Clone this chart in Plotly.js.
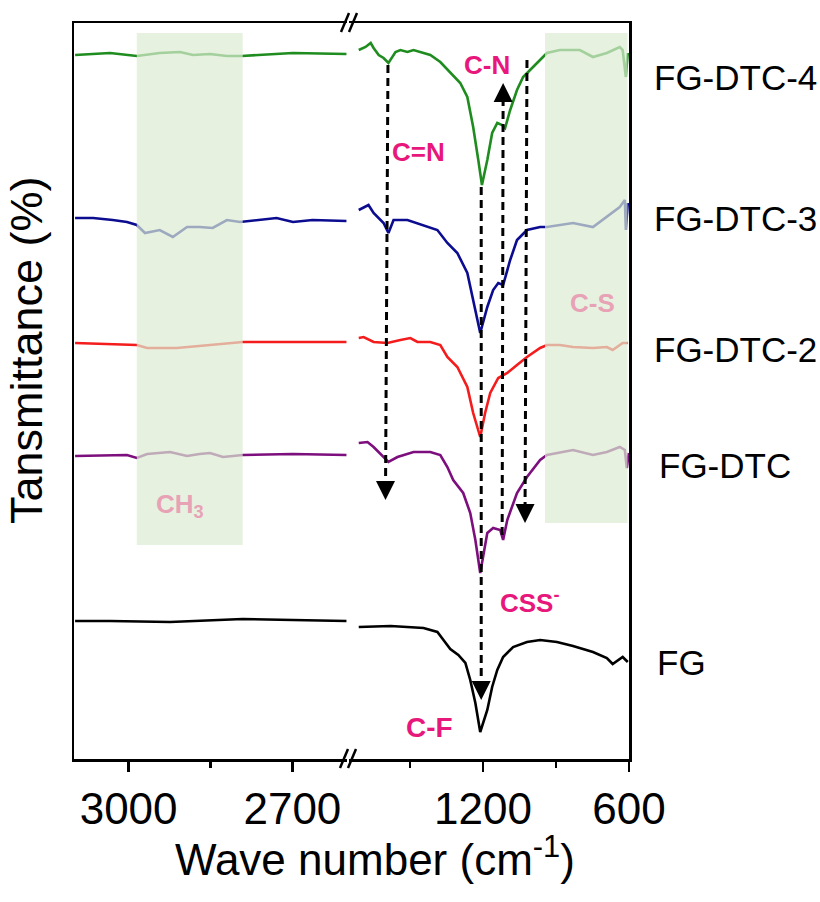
<!DOCTYPE html>
<html>
<head>
<meta charset="utf-8">
<script src="https://cdn.plot.ly/plotly-3.0.1.min.js"></script>
<style>html,body{margin:0;padding:0;background:#fff;}#chart{width:820px;height:902px;}</style>
</head>
<body>
<div id="chart"></div>
<script>
// ---------- DATA (wavenumber in cm-1, offset transmittance in a.u.) ----------
var seriesNames = ["FG-DTC-4", "FG-DTC-3", "FG-DTC-2", "FG-DTC", "FG"];
var seriesColors = ["#1e8c1e", "#0c0c90", "#f41c1c", "#7d0e7d", "#000000"];

// High wavenumber panel (3100-2600)
var dtc4LeftWn = [3098, 3034, 2985, 2943, 2906, 2882, 2851, 2820, 2793, 2760, 2699, 2601];
var dtc4LeftT  = [704, 706, 703, 706, 707, 704, 705, 703, 703, 704, 706, 705];
var dtc3LeftWn = [3098, 3065, 3029, 3003, 2985, 2970, 2943, 2919, 2893, 2870, 2846, 2820, 2796, 2760, 2729, 2699, 2663, 2601];
var dtc3LeftT  = [541, 541, 539, 537, 534, 526, 529, 522, 532, 532, 531, 539, 537, 539, 541, 537, 539, 538];
var dtc2LeftWn = [3098, 2985, 2966, 2912, 2851, 2809, 2791, 2699, 2601];
var dtc2LeftT  = [416, 414, 411, 411, 414, 416, 417, 417, 417];
var dtcLeftWn  = [3098, 3003, 2985, 2966, 2924, 2893, 2870, 2851, 2827, 2791, 2699, 2601];
var dtcLeftT   = [303, 304, 301, 305, 307, 303, 305, 306, 302, 304, 305, 304];
var fgLeftWn   = [3098, 3034, 2924, 2851, 2791, 2699, 2601];
var fgLeftT    = [138, 138, 137, 139, 140, 139, 138];

// Fingerprint panel (1750-600)
var dtc4RightWn = [1710, 1682, 1661, 1649, 1628, 1608, 1588, 1571, 1559, 1539, 1510, 1485, 1457, 1416, 1375, 1334, 1293, 1264, 1240, 1219, 1204, 1182, 1162, 1141, 1121, 1109, 1088, 1060, 1035, 994, 937, 884, 802, 748, 691, 638, 626, 613, 605];
var dtc4RightT  = [709, 712, 716, 711, 704, 701, 696, 702, 707, 709, 707, 709, 707, 704, 697, 686, 676, 662, 632, 599, 574, 599, 626, 636, 634, 631, 649, 669, 682, 692, 706, 709, 709, 702, 706, 712, 709, 682, 706];
var dtc3RightWn = [1710, 1670, 1649, 1608, 1588, 1567, 1510, 1444, 1387, 1346, 1305, 1264, 1240, 1223, 1211, 1182, 1158, 1137, 1117, 1088, 1060, 1019, 965, 937, 830, 748, 691, 638, 617, 613, 605];
var dtc3RightT  = [549, 554, 546, 536, 526, 539, 539, 534, 529, 516, 506, 486, 459, 439, 426, 452, 469, 476, 474, 499, 519, 529, 532, 532, 536, 532, 542, 552, 559, 529, 556];
var dtc2RightWn = [1710, 1690, 1649, 1592, 1539, 1498, 1469, 1416, 1375, 1346, 1305, 1264, 1240, 1211, 1191, 1170, 1137, 1100, 1060, 1019, 965, 937, 884, 830, 748, 691, 667, 626, 605];
var dtc2RightT  = [421, 422, 417, 416, 419, 421, 417, 417, 414, 402, 392, 372, 346, 322, 346, 366, 381, 386, 394, 402, 411, 414, 414, 412, 411, 412, 409, 416, 416];
var dtcRightWn  = [1710, 1674, 1649, 1608, 1588, 1551, 1485, 1416, 1375, 1346, 1322, 1281, 1252, 1231, 1211, 1182, 1158, 1129, 1117, 1100, 1060, 1019, 965, 937, 830, 748, 691, 638, 617, 609, 601];
var dtcRightT   = [316, 317, 312, 302, 297, 302, 307, 307, 304, 292, 279, 266, 246, 219, 186, 226, 231, 229, 219, 239, 266, 282, 299, 304, 309, 304, 307, 312, 309, 291, 306];
var fgRightWn   = [1710, 1579, 1444, 1387, 1362, 1334, 1301, 1272, 1252, 1231, 1211, 1182, 1162, 1141, 1117, 1076, 1019, 965, 896, 830, 748, 691, 667, 646, 626, 605];
var fgRightT    = [132, 133, 131, 127, 119, 110, 104, 96, 79, 56, 27, 49, 72, 89, 102, 112, 117, 119, 117, 113, 107, 101, 95, 99, 102, 97];

var leftWn  = [dtc4LeftWn, dtc3LeftWn, dtc2LeftWn, dtcLeftWn, fgLeftWn];
var leftT   = [dtc4LeftT, dtc3LeftT, dtc2LeftT, dtcLeftT, fgLeftT];
var rightWn = [dtc4RightWn, dtc3RightWn, dtc2RightWn, dtcRightWn, fgRightWn];
var rightT  = [dtc4RightT, dtc3RightT, dtc2RightT, dtcRightT, fgRightT];

// Tick values
var leftTicks = [3000, 2700];
var rightTicks = [1200, 600];

// Band assignments
var bandLabels = ["C=N", "C-N", "CSS<sup>-</sup>", "C-F", "C-S", "CH<sub>3</sub>"];

// ---------- FIGURE ----------
var traces = [];
for (var i = 0; i < seriesNames.length; i++) {
  traces.push({x: leftWn[i], y: leftT[i], xaxis: 'x', yaxis: 'y', mode: 'lines', name: seriesNames[i],
    line: {color: seriesColors[i], width: 2.6}, showlegend: false, hoverinfo: 'skip'});
  traces.push({x: rightWn[i], y: rightT[i], xaxis: 'x2', yaxis: 'y2', mode: 'lines', name: seriesNames[i],
    line: {color: seriesColors[i], width: 2.6}, showlegend: false, hoverinfo: 'skip'});
}

var FONT = 'Liberation Sans, Arial, sans-serif';
var MAG = '#e8177c';
var PINK = '#e8a2b6';
var DASH = {color: '#000', width: 3, dash: '8px,5px'};

// dashed guides: [x0, y0, x1(tip), y1(tip), direction]
var guides = [
  [1590, 694, 1600, 259, 'down'],
  [1207, 572, 1207, 59, 'down'],
  [1121, 224, 1117, 676, 'up'],
  [1019, 699, 1027, 236, 'down']
];

// arrow heads as markers placed at the tips
traces.push({
  x: guides.map(function (g) { return g[2]; }),
  y: guides.map(function (g) { return g[3]; }),
  xaxis: 'x2', yaxis: 'y2', mode: 'markers', showlegend: false, hoverinfo: 'skip',
  marker: {symbol: guides.map(function (g) { return g[4] === 'down' ? 'arrow-down' : 'arrow-up'; }),
    size: 19, color: '#000', line: {width: 0}}
});

var axBase = {
  showline: true, linewidth: 2.5, linecolor: '#000', mirror: true,
  ticks: 'outside', ticklen: 10, tickwidth: 2.5, tickcolor: '#000',
  showgrid: false, zeroline: false,
  tickfont: {family: FONT, size: 44, color: '#000'}
};

var xaxis = Object.assign({}, axBase, {
  domain: [0, 0.4919], range: [3100, 2600], anchor: 'y',
  tickmode: 'array', tickvals: leftTicks, ticktext: leftTicks.map(String),
  minor: {ticks: 'outside', ticklen: 6, tickwidth: 2.5, tickcolor: '#000', showgrid: false, tickmode: 'array', tickvals: [2850]}
});
var xaxis2 = Object.assign({}, axBase, {
  domain: [0.4955, 1], range: [1750, 600], anchor: 'y2',
  tickmode: 'array', tickvals: rightTicks, ticktext: rightTicks.map(String),
  minor: {ticks: 'outside', ticklen: 6, tickwidth: 2.5, tickcolor: '#000', showgrid: false, tickmode: 'array', tickvals: [1500, 900]}
});

var yaxis = {domain: [0, 1], range: [0, 736], anchor: 'x', showline: true, linewidth: 2.5, linecolor: '#000',
  mirror: false, ticks: '', showticklabels: false, showgrid: false, zeroline: false};
var yaxis2 = {domain: [0, 1], matches: 'y', range: [0, 736], anchor: 'x2', side: 'right', showline: true, linewidth: 2.5,
  linecolor: '#000', mirror: false, ticks: '', showticklabels: false, showgrid: false, zeroline: false};

function px2paperX(p) { return (p - 74) / 555; }
function px2paperY(p) { return (759 - p) / 736; }

var shapes = [
  // shaded regions (drawn above spectra, translucent)
  {type: 'rect', xref: 'x', yref: 'y', x0: 2985, x1: 2791, y0: 214, y1: 726, fillcolor: '#dcecd2', opacity: 0.7, line: {width: 0}, layer: 'above'},
  {type: 'rect', xref: 'x2', yref: 'y', x0: 945, x1: 606, y0: 236, y1: 726, fillcolor: '#dcecd2', opacity: 0.7, line: {width: 0}, layer: 'above'}
];
guides.forEach(function (g) {
  var back = g[4] === 'down' ? 10 : -10;
  shapes.push({type: 'line', xref: 'x2', yref: 'y', x0: g[0], y0: g[1], x1: g[2], y1: g[3] + back, line: DASH, layer: 'above'});
});
// axis break marks
[[341, 349], [349, 357]].forEach(function (s) {
  shapes.push({type: 'line', xref: 'paper', yref: 'paper', x0: px2paperX(s[0]), y0: px2paperY(32), x1: px2paperX(s[1]), y1: px2paperY(13), line: {color: '#000', width: 2.5}, layer: 'above'});
  shapes.push({type: 'line', xref: 'paper', yref: 'paper', x0: px2paperX(s[0] - 1), y0: px2paperY(768), x1: px2paperX(s[1] - 1), y1: px2paperY(749), line: {color: '#000', width: 2.5}, layer: 'above'});
});

var annotations = [
  // band labels
  {xref: 'x2', yref: 'y', x: 1465, y: 607, text: '<b>' + bandLabels[0] + '</b>', showarrow: false, font: {family: FONT, size: 26, color: MAG}},
  {xref: 'x2', yref: 'y', x: 1182, y: 694, text: '<b>' + bandLabels[1] + '</b>', showarrow: false, font: {family: FONT, size: 26, color: MAG}},
  {xref: 'x2', yref: 'y', x: 1006, y: 158, text: '<b>' + bandLabels[2] + '</b>', showarrow: false, font: {family: FONT, size: 26, color: MAG}},
  {xref: 'x2', yref: 'y', x: 1420, y: 32, text: '<b>' + bandLabels[3] + '</b>', showarrow: false, font: {family: FONT, size: 28, color: MAG}},
  {xref: 'x2', yref: 'y', x: 748, y: 456, text: '<b>' + bandLabels[4] + '</b>', showarrow: false, font: {family: FONT, size: 26, color: PINK}},
  {xref: 'x', yref: 'y', x: 2906, y: 254, text: '<b>' + bandLabels[5] + '</b>', showarrow: false, font: {family: FONT, size: 26, color: PINK}},
  // axis titles
  {xref: 'paper', yref: 'paper', x: px2paperX(27), y: px2paperY(350), text: 'Tansmittance (%)', textangle: -90, showarrow: false,
    xanchor: 'center', yanchor: 'middle', font: {family: FONT, size: 45, color: '#000'}},
  {xref: 'paper', yref: 'paper', x: px2paperX(375), y: px2paperY(856), text: 'Wave number (cm<sup>-1</sup>)', showarrow: false,
    xanchor: 'center', yanchor: 'middle', font: {family: FONT, size: 44, color: '#000'}}
];
// series labels at right
var labelPx = [[652, 77], [652, 219], [652, 350], [657, 465], [655, 662]];
for (var k = 0; k < seriesNames.length; k++) {
  annotations.push({xref: 'paper', yref: 'paper', x: px2paperX(labelPx[k][0]), y: px2paperY(labelPx[k][1]),
    text: seriesNames[k], showarrow: false, xanchor: 'left', yanchor: 'middle', font: {family: FONT, size: 35, color: '#000'}});
}

var layout = {
  width: 820, height: 902,
  margin: {l: 74, r: 191, t: 23, b: 143, pad: 0},
  paper_bgcolor: '#fff', plot_bgcolor: '#fff',
  showlegend: false,
  xaxis: xaxis, xaxis2: xaxis2, yaxis: yaxis, yaxis2: yaxis2,
  shapes: shapes, annotations: annotations,
  font: {family: FONT}
};

Plotly.newPlot('chart', traces, layout, {staticPlot: true, displayModeBar: false});
</script>
</body>
</html>
